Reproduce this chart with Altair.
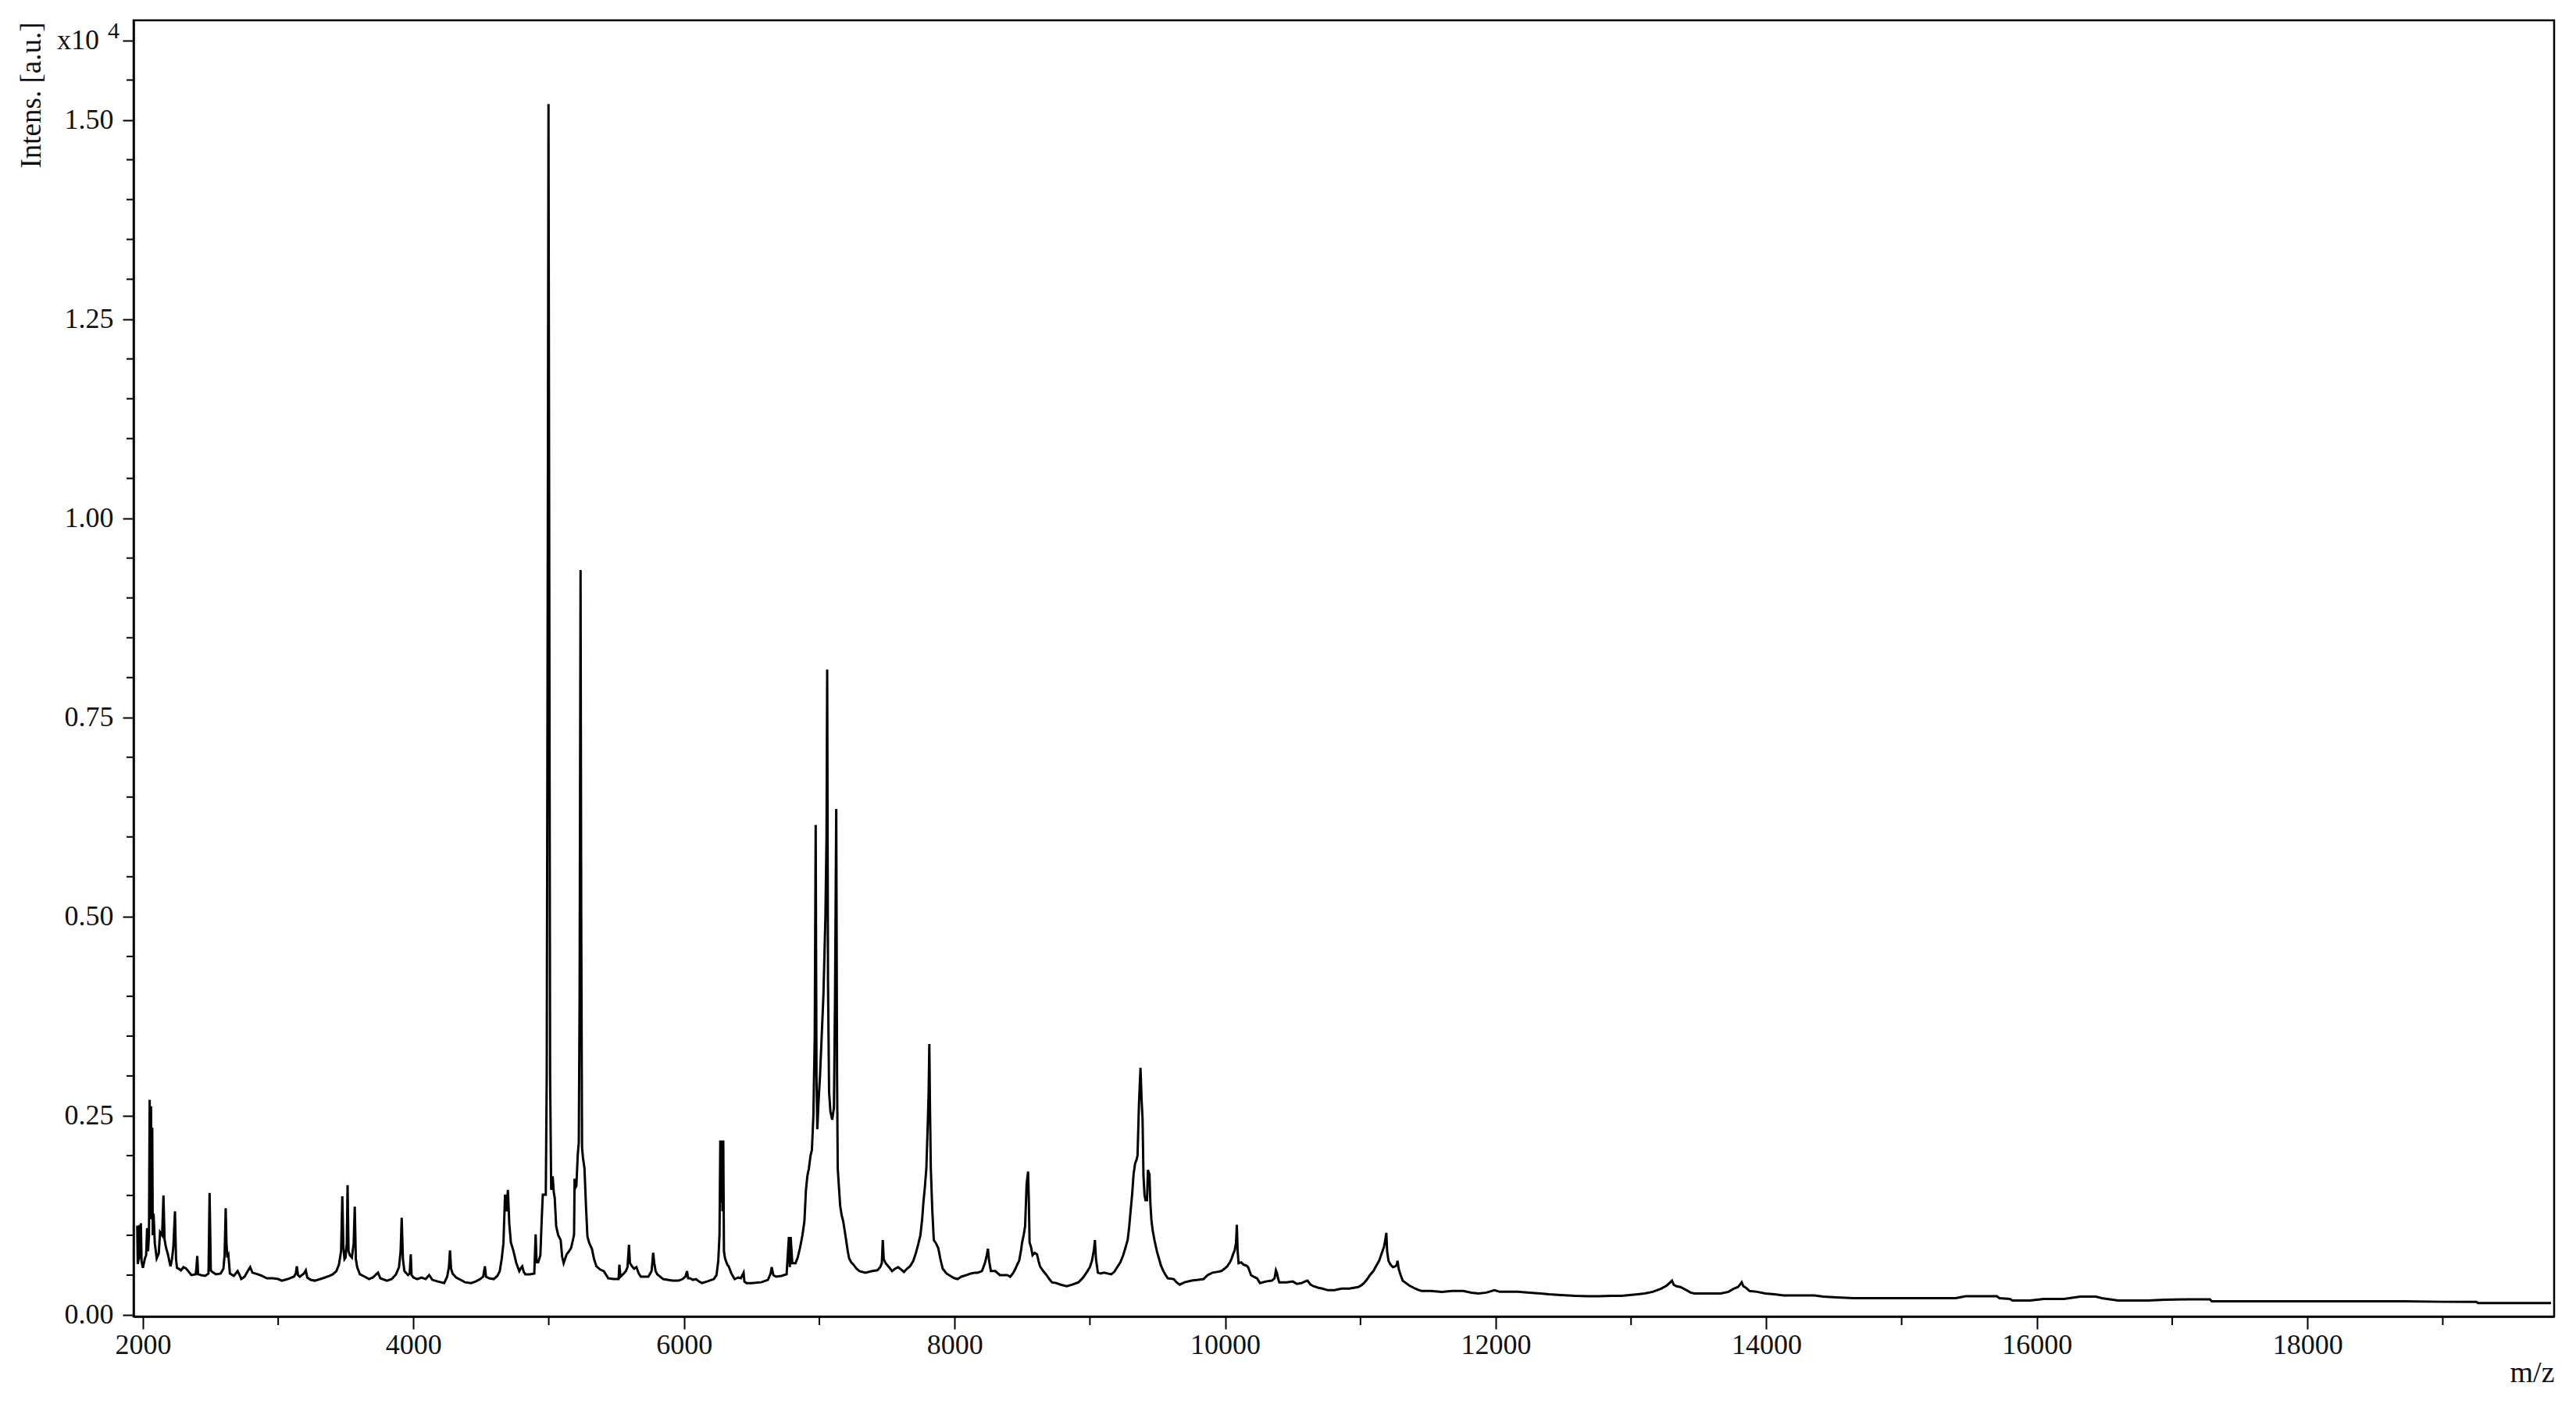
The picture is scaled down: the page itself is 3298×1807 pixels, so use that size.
import altair as alt
import pandas as pd

# ---- spectrum (m/z, intensity in units of 10^4 a.u.) ----
mz_a = [1958, 1962, 1968, 1972, 1978, 1985, 1990, 2000, 2015, 2024, 2031, 2038, 2045, 2050, 2055, 2060,
        2065, 2069, 2073, 2079, 2088, 2102, 2117, 2127, 2142, 2152, 2160, 2170, 2185, 2195, 2204, 2215,
        2225, 2237, 2245, 2252, 2265, 2281, 2300, 2320, 2340, 2358, 2390, 2395, 2402, 2408, 2430, 2460,
        2485, 2493, 2502, 2512, 2540, 2575, 2595, 2604, 2612, 2618, 2624, 2632, 2643, 2672, 2700, 2715,
        2727, 2752, 2775, 2793, 2810, 2849, 2880, 2916, 2960, 3000, 3027, 3070, 3116, 3130, 3138, 3146,
        3160, 3190, 3204, 3215, 3240, 3271, 3330, 3380, 3404, 3430, 3449, 3465, 3474, 3482, 3490, 3498,
        3507, 3513, 3520, 3530, 3545, 3558, 3566, 3574, 3584, 3604, 3640, 3671, 3700, 3725, 3738, 3755,
        3804, 3840, 3871, 3893, 3905, 3913, 3922, 3933, 3960, 3972, 3980, 3986, 4000, 4027, 4060, 4090,
        4116, 4140, 4180, 4227, 4249, 4262, 4270, 4278, 4289, 4315, 4338, 4380, 4427, 4460, 4493, 4515,
        4528, 4536, 4560, 4593, 4620, 4638, 4652, 4665, 4677, 4688, 4698, 4708, 4720, 4738, 4760, 4782,
        4795, 4804, 4815, 4827, 4860, 4893, 4903, 4910, 4922, 4938, 4948, 4956, 4978]
int_a = [0.112, 0.064, 0.070, 0.113, 0.070, 0.115, 0.067, 0.059, 0.071, 0.075, 0.109, 0.080, 0.100, 0.270, 0.120, 0.262,
         0.140, 0.235, 0.100, 0.127, 0.090, 0.071, 0.077, 0.104, 0.100, 0.150, 0.095, 0.085, 0.076, 0.068, 0.061, 0.070,
         0.085, 0.130, 0.070, 0.059, 0.058, 0.056, 0.060, 0.058, 0.054, 0.050, 0.051, 0.058, 0.074, 0.051, 0.050, 0.049,
         0.052, 0.153, 0.056, 0.054, 0.051, 0.052, 0.058, 0.075, 0.134, 0.090, 0.072, 0.075, 0.052, 0.049, 0.055, 0.050,
         0.045, 0.048, 0.055, 0.060, 0.053, 0.051, 0.049, 0.046, 0.046, 0.045, 0.043, 0.045, 0.048, 0.052, 0.061, 0.050,
         0.048, 0.052, 0.056, 0.047, 0.044, 0.043, 0.046, 0.049, 0.051, 0.055, 0.063, 0.080, 0.149, 0.085, 0.070, 0.072,
         0.090, 0.163, 0.080, 0.075, 0.072, 0.090, 0.136, 0.070, 0.060, 0.051, 0.048, 0.045, 0.047, 0.051, 0.053, 0.046,
         0.043, 0.045, 0.051, 0.060, 0.080, 0.122, 0.070, 0.055, 0.050, 0.052, 0.076, 0.050, 0.047, 0.045, 0.047, 0.045,
         0.050, 0.044, 0.042, 0.040, 0.048, 0.060, 0.081, 0.058, 0.052, 0.047, 0.045, 0.041, 0.040, 0.042, 0.045, 0.048,
         0.061, 0.048, 0.046, 0.045, 0.049, 0.055, 0.070, 0.090, 0.151, 0.130, 0.157, 0.115, 0.091, 0.081, 0.065, 0.055,
         0.059, 0.061, 0.054, 0.051, 0.051, 0.052, 0.101, 0.066, 0.066, 0.075, 0.120, 0.151, 0.151]

mz_b = [4985, 4991, 4998, 5004, 5010, 5018, 5029, 5037, 5044, 5055, 5070, 5088, 5099, 5110, 5132, 5150,
        5165, 5180, 5187, 5191, 5198, 5204, 5214, 5222, 5228, 5235, 5240, 5246, 5253, 5264, 5275, 5286,
        5300, 5319, 5335, 5352, 5380, 5407, 5440, 5480, 5516, 5522, 5530, 5549, 5570, 5582, 5593, 5600,
        5615, 5630, 5648, 5665, 5681, 5736, 5760, 5772, 5780, 5790, 5802, 5846, 5912, 5960, 5989, 6010,
        6022, 6030, 6044, 6065, 6088, 6110, 6132, 6170, 6220, 6240, 6253, 6262, 6268, 6273, 6278, 6284,
        6290, 6295, 6303, 6320, 6330, 6350, 6374, 6400, 6420, 6440, 6446, 6462, 6500, 6571, 6620, 6640,
        6648, 6660, 6681, 6720, 6758, 6775, 6782, 6788, 6800, 6824, 6840, 6857, 6875, 6890, 6901, 6912,
        6923, 6935, 6945, 6956, 6966, 6973, 6979, 6985, 6995, 7005, 7015, 7030, 7045, 7053, 7058, 7064,
        7072, 7082, 7095, 7108, 7116, 7125, 7131, 7136, 7145, 7154, 7165, 7176, 7188, 7198, 7210, 7220,
        7236, 7253, 7275, 7297, 7341, 7390, 7429, 7450, 7462, 7469, 7476, 7490, 7515, 7538, 7560, 7582,
        7605, 7626, 7648, 7670, 7695, 7714, 7730, 7747, 7760, 7769, 7780, 7791, 7802, 7808, 7813, 7818,
        7824, 7835, 7846, 7862, 7879, 7895, 7912, 7940, 7978, 8000, 8022, 8050, 8088, 8120, 8149]
int_b = [0.300, 0.800, 1.520, 0.900, 0.300, 0.157, 0.174, 0.154, 0.147, 0.111, 0.100, 0.094, 0.073, 0.065, 0.076, 0.080,
         0.084, 0.095, 0.101, 0.171, 0.160, 0.162, 0.200, 0.217, 0.400, 0.935, 0.500, 0.210, 0.197, 0.184, 0.137, 0.098,
         0.090, 0.083, 0.070, 0.061, 0.057, 0.055, 0.046, 0.045, 0.045, 0.063, 0.048, 0.051, 0.055, 0.060, 0.088, 0.065,
         0.061, 0.058, 0.060, 0.052, 0.048, 0.048, 0.055, 0.078, 0.065, 0.055, 0.051, 0.045, 0.043, 0.043, 0.045, 0.048,
         0.055, 0.046, 0.046, 0.044, 0.045, 0.042, 0.040, 0.042, 0.045, 0.050, 0.068, 0.100, 0.219, 0.140, 0.219, 0.130,
         0.219, 0.080, 0.071, 0.063, 0.061, 0.052, 0.045, 0.047, 0.046, 0.053, 0.042, 0.040, 0.040, 0.041, 0.044, 0.052,
         0.060, 0.050, 0.048, 0.049, 0.051, 0.098, 0.060, 0.098, 0.065, 0.065, 0.072, 0.084, 0.100, 0.118, 0.157, 0.175,
         0.184, 0.200, 0.207, 0.250, 0.350, 0.615, 0.300, 0.233, 0.270, 0.300, 0.340, 0.400, 0.500, 0.600, 0.810, 0.420,
         0.280, 0.255, 0.245, 0.260, 0.400, 0.635, 0.300, 0.184, 0.160, 0.137, 0.125, 0.118, 0.105, 0.094, 0.080, 0.071,
         0.066, 0.063, 0.058, 0.055, 0.053, 0.055, 0.056, 0.060, 0.065, 0.094, 0.070, 0.065, 0.060, 0.055, 0.058, 0.060,
         0.057, 0.054, 0.058, 0.061, 0.068, 0.078, 0.088, 0.100, 0.120, 0.141, 0.160, 0.184, 0.243, 0.280, 0.340, 0.260,
         0.184, 0.131, 0.094, 0.090, 0.084, 0.070, 0.058, 0.052, 0.048, 0.046, 0.045, 0.048, 0.050, 0.052, 0.053]

mz_c = [8169, 8202, 8224, 8238, 8246, 8255, 8268, 8301, 8334, 8389, 8411, 8430, 8444, 8460, 8477, 8490,
        8499, 8510, 8521, 8532, 8543, 8549, 8554, 8565, 8576, 8592, 8609, 8620, 8631, 8655, 8675, 8700,
        8719, 8750, 8785, 8829, 8870, 8916, 8950, 8982, 9000, 9015, 9030, 9037, 9045, 9059, 9080, 9103,
        9130, 9158, 9180, 9202, 9225, 9246, 9262, 9279, 9290, 9301, 9312, 9323, 9334, 9345, 9352, 9363,
        9374, 9382, 9389, 9396, 9404, 9411, 9422, 9429, 9436, 9440, 9447, 9455, 9465, 9477, 9495, 9510,
        9525, 9543, 9560, 9576, 9620, 9640, 9664, 9700, 9752, 9800, 9840, 9870, 9905, 9940, 9971, 9995,
        10015, 10035, 10048, 10060, 10070, 10080, 10086, 10092, 10099, 10118, 10136, 10155, 10169, 10180, 10191, 10210,
        10235, 10257, 10300, 10345, 10365, 10375, 10382, 10392, 10400, 10455, 10500, 10530, 10565, 10590, 10609, 10630,
        10653, 10690, 10719, 10760, 10807, 10860, 10916, 10950, 10982, 11005, 11026, 11050, 11070, 11095, 11114, 11138,
        11158, 11173, 11184, 11191, 11197, 11207, 11222, 11240, 11258, 11268, 11274, 11282, 11297, 11312, 11336, 11360,
        11393, 11420, 11451]
int_c = [0.053, 0.055, 0.065, 0.075, 0.083, 0.068, 0.055, 0.055, 0.050, 0.050, 0.048, 0.052, 0.056, 0.062, 0.068, 0.080,
         0.091, 0.100, 0.111, 0.164, 0.180, 0.140, 0.091, 0.085, 0.075, 0.078, 0.076, 0.068, 0.061, 0.055, 0.051, 0.045,
         0.041, 0.040, 0.038, 0.036, 0.038, 0.041, 0.047, 0.055, 0.060, 0.068, 0.082, 0.094, 0.070, 0.053, 0.052, 0.053,
         0.052, 0.051, 0.054, 0.060, 0.066, 0.075, 0.084, 0.094, 0.110, 0.131, 0.151, 0.177, 0.190, 0.195, 0.200, 0.267,
         0.310, 0.270, 0.247, 0.174, 0.150, 0.144, 0.144, 0.182, 0.178, 0.177, 0.140, 0.118, 0.105, 0.094, 0.080, 0.071,
         0.062, 0.055, 0.050, 0.046, 0.045, 0.041, 0.038, 0.041, 0.043, 0.044, 0.045, 0.050, 0.053, 0.054, 0.055, 0.058,
         0.061, 0.066, 0.071, 0.077, 0.081, 0.090, 0.113, 0.080, 0.065, 0.066, 0.063, 0.062, 0.060, 0.055, 0.050, 0.048,
         0.046, 0.040, 0.042, 0.043, 0.046, 0.056, 0.053, 0.045, 0.041, 0.041, 0.042, 0.039, 0.040, 0.042, 0.043, 0.038,
         0.036, 0.034, 0.033, 0.031, 0.031, 0.033, 0.033, 0.034, 0.035, 0.037, 0.040, 0.045, 0.050, 0.055, 0.061, 0.068,
         0.078, 0.085, 0.095, 0.103, 0.080, 0.068, 0.063, 0.060, 0.061, 0.063, 0.068, 0.058, 0.050, 0.043, 0.040, 0.037,
         0.034, 0.032, 0.030]

mz_d = [11520, 11600, 11680, 11759, 11820, 11874, 11930, 11990, 12030, 12100, 12163, 12250, 12330, 12394, 12480, 12586,
        12680, 12760, 12850, 12930, 12990, 13050, 13100, 13160, 13222, 13265, 13290, 13303, 13315, 13336, 13365, 13400,
        13440, 13471, 13560, 13663, 13720, 13760, 13790, 13810, 13818, 13830, 13850, 13876, 13933, 13992, 14060, 14127,
        14250, 14357, 14420, 14520, 14646, 14800, 14950, 15100, 15250, 15400, 15473, 15600, 15704, 15723, 15800, 15819,
        15950, 16050, 16200, 16320, 16435, 16480, 16600, 16700, 16820, 16946, 17100, 17279, 17292, 17500, 17800, 18100,
        18400, 18700, 19000, 19248, 19260, 19500, 19800]
int_d = [0.030, 0.029, 0.030, 0.030, 0.028, 0.027, 0.028, 0.031, 0.029, 0.029, 0.029, 0.028, 0.027, 0.026, 0.025, 0.024,
         0.0235, 0.0235, 0.024, 0.024, 0.025, 0.026, 0.027, 0.029, 0.033, 0.037, 0.041, 0.043, 0.038, 0.036, 0.035, 0.032,
         0.028, 0.027, 0.027, 0.027, 0.029, 0.033, 0.035, 0.039, 0.041, 0.036, 0.034, 0.030, 0.029, 0.027, 0.026, 0.0245,
         0.0245, 0.0245, 0.023, 0.022, 0.021, 0.021, 0.021, 0.021, 0.021, 0.021, 0.0235, 0.0235, 0.0235, 0.021, 0.020, 0.018,
         0.018, 0.020, 0.020, 0.023, 0.023, 0.021, 0.018, 0.018, 0.018, 0.019, 0.0195, 0.0195, 0.017, 0.017, 0.017, 0.017,
         0.017, 0.017, 0.0165, 0.0165, 0.015, 0.015, 0.015]

# ---- axis ticks ----
x_major = [2000, 4000, 6000, 8000, 10000, 12000, 14000, 16000, 18000]
x_minor = [3000, 5000, 7000, 9000, 11000, 13000, 15000, 17000, 19000]
y_major = [0.0, 0.25, 0.5, 0.75, 1.0, 1.25, 1.5, 1.6]
y_minor = [0.05, 0.10, 0.15, 0.20, 0.30, 0.35, 0.40, 0.45, 0.55, 0.60, 0.65, 0.70, 0.80, 0.85,
           0.90, 0.95, 1.05, 1.10, 1.15, 1.20, 1.30, 1.35, 1.40, 1.45, 1.55]

mz = mz_a + mz_b + mz_c + mz_d
intensity = int_a + int_b + int_c + int_d
df = pd.DataFrame({"mz": mz, "intensity": intensity})

W, H = 3099, 1660
FONT = "Liberation Serif"
xscale = alt.Scale(domain=[1931, 19823], nice=False, zero=False)
yscale = alt.Scale(domain=[-0.002, 1.625], nice=False, zero=False)

xaxis = alt.Axis(values=x_major, format="d", tickSize=16, tickWidth=2, tickColor="black",
                 domainColor="black", domainWidth=2.5, grid=False,
                 labelFont=FONT, labelFontSize=36, labelColor="#111", labelPadding=3,
                 title="m/z", titleFont=FONT, titleFontSize=38, titleFontWeight="normal",
                 titleColor="#111", titleAnchor="end", titleAlign="right",
                 titleX=W, titleY=72, titleBaseline="middle")
yaxis = alt.Axis(values=y_major,
                 labelExpr="datum.value > 1.55 ? '' : format(datum.value, '.2f')",
                 tickSize=14, tickWidth=2, tickColor="black",
                 domainColor="black", domainWidth=2.5, grid=False,
                 labelFont=FONT, labelFontSize=36, labelColor="#111", labelPadding=12,
                 title="Intens. [a.u.]", titleFont=FONT, titleFontSize=37,
                 titleFontWeight="normal", titleColor="#111", titleAngle=270,
                 titleAlign="right", titleBaseline="middle", titleX=-131, titleY=2)

line = alt.Chart(df).mark_line(color="black", strokeWidth=3).encode(
    x=alt.X("mz:Q", scale=xscale, axis=xaxis, title="m/z"),
    y=alt.Y("intensity:Q", scale=yscale, axis=yaxis, title="Intens. [a.u.]"),
)

xminor = alt.Chart(pd.DataFrame({"mz": x_minor})).mark_rule(color="black", strokeWidth=2).encode(
    x=alt.X("mz:Q", scale=xscale, axis=xaxis, title="m/z"),
    y=alt.value(H), y2=alt.value(H + 11),
)
yminor = alt.Chart(pd.DataFrame({"intensity": y_minor})).mark_rule(color="black", strokeWidth=2).encode(
    y=alt.Y("intensity:Q", scale=yscale, axis=yaxis, title="Intens. [a.u.]"),
    x=alt.value(0), x2=alt.value(-9),
)

exp_base = alt.Chart(pd.DataFrame({"t": ["x10"], "intensity": [1.6]})).mark_text(
    font=FONT, fontSize=36, color="#111", align="right", baseline="middle"
).encode(text="t:N", x=alt.value(-44),
         y=alt.Y("intensity:Q", scale=yscale, axis=yaxis, title="Intens. [a.u.]"))
exp_sup = alt.Chart(pd.DataFrame({"t": ["4"], "intensity": [1.6]})).mark_text(
    font=FONT, fontSize=30, color="#111", align="left", baseline="middle", dy=-12
).encode(text="t:N", x=alt.value(-33),
         y=alt.Y("intensity:Q", scale=yscale, axis=yaxis, title="Intens. [a.u.]"))

chart = alt.layer(line, xminor, yminor, exp_base, exp_sup).properties(
    width=W, height=H,
    autosize=alt.AutoSizeParams(type="none"),
    padding={"left": 163, "top": 18, "right": 20, "bottom": 110},
    background="white",
).configure_view(stroke="black", strokeWidth=2.5)

chart.save("out.html", embed_options={"renderer": "svg", "actions": False})
